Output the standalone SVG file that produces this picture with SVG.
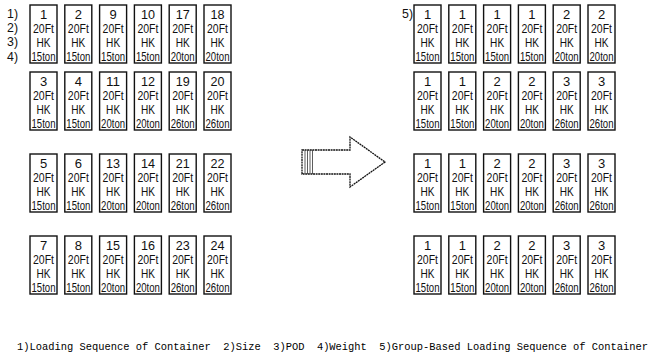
<svg xmlns="http://www.w3.org/2000/svg" width="661" height="358" viewBox="0 0 661 358">
<style>
.b{fill:#fff;stroke:#111;stroke-width:1.4}
.t{font-family:"Liberation Sans",Arial,sans-serif;font-size:13px;fill:#111;text-anchor:middle}
.l{font-family:"Liberation Sans",Arial,sans-serif;font-size:13px;fill:#111}
.c{font-family:"Liberation Mono","DejaVu Sans Mono",monospace;font-size:10.5px;fill:#000}
</style>
<defs>
<g id="box"><rect class="b" x="0" y="0" width="27" height="58"/><text class="t" x="13.5" y="27.5" textLength="21" lengthAdjust="spacingAndGlyphs">20Ft</text><text class="t" x="13.5" y="41.5" textLength="14" lengthAdjust="spacingAndGlyphs">HK</text></g>
</defs>
<rect width="661" height="358" fill="#fff"/>
<g id="labels-left" class="l">
<text x="7" y="18" textLength="11" lengthAdjust="spacingAndGlyphs">1)</text><text x="7" y="32" textLength="11" lengthAdjust="spacingAndGlyphs">2)</text><text x="7" y="46" textLength="11" lengthAdjust="spacingAndGlyphs">3)</text><text x="7" y="61" textLength="11" lengthAdjust="spacingAndGlyphs">4)</text>
</g>
<g id="label-right" class="l"><text x="402" y="18" textLength="11" lengthAdjust="spacingAndGlyphs">5)</text></g>
<g id="left-grid">
<g id="L1" transform="translate(30,5)"><use href="#box"/><text class="t" x="13.5" y="13.5">1</text><text class="t" x="13.5" y="55.5" textLength="24" lengthAdjust="spacingAndGlyphs">15ton</text></g>
<g id="L2" transform="translate(64.8,5)"><use href="#box"/><text class="t" x="13.5" y="13.5">2</text><text class="t" x="13.5" y="55.5" textLength="24" lengthAdjust="spacingAndGlyphs">15ton</text></g>
<g id="L9" transform="translate(99.6,5)"><use href="#box"/><text class="t" x="13.5" y="13.5">9</text><text class="t" x="13.5" y="55.5" textLength="24" lengthAdjust="spacingAndGlyphs">15ton</text></g>
<g id="L10" transform="translate(134.4,5)"><use href="#box"/><text class="t" x="13.5" y="13.5" textLength="14" lengthAdjust="spacingAndGlyphs">10</text><text class="t" x="13.5" y="55.5" textLength="24" lengthAdjust="spacingAndGlyphs">15ton</text></g>
<g id="L17" transform="translate(169.2,5)"><use href="#box"/><text class="t" x="13.5" y="13.5" textLength="14" lengthAdjust="spacingAndGlyphs">17</text><text class="t" x="13.5" y="55.5" textLength="24" lengthAdjust="spacingAndGlyphs">20ton</text></g>
<g id="L18" transform="translate(204,5)"><use href="#box"/><text class="t" x="13.5" y="13.5" textLength="14" lengthAdjust="spacingAndGlyphs">18</text><text class="t" x="13.5" y="55.5" textLength="24" lengthAdjust="spacingAndGlyphs">20ton</text></g>
<g id="L3" transform="translate(30,72)"><use href="#box"/><text class="t" x="13.5" y="13.5">3</text><text class="t" x="13.5" y="55.5" textLength="24" lengthAdjust="spacingAndGlyphs">15ton</text></g>
<g id="L4" transform="translate(64.8,72)"><use href="#box"/><text class="t" x="13.5" y="13.5">4</text><text class="t" x="13.5" y="55.5" textLength="24" lengthAdjust="spacingAndGlyphs">15ton</text></g>
<g id="L11" transform="translate(99.6,72)"><use href="#box"/><text class="t" x="13.5" y="13.5" textLength="14" lengthAdjust="spacingAndGlyphs">11</text><text class="t" x="13.5" y="55.5" textLength="24" lengthAdjust="spacingAndGlyphs">20ton</text></g>
<g id="L12" transform="translate(134.4,72)"><use href="#box"/><text class="t" x="13.5" y="13.5" textLength="14" lengthAdjust="spacingAndGlyphs">12</text><text class="t" x="13.5" y="55.5" textLength="24" lengthAdjust="spacingAndGlyphs">20ton</text></g>
<g id="L19" transform="translate(169.2,72)"><use href="#box"/><text class="t" x="13.5" y="13.5" textLength="14" lengthAdjust="spacingAndGlyphs">19</text><text class="t" x="13.5" y="55.5" textLength="24" lengthAdjust="spacingAndGlyphs">26ton</text></g>
<g id="L20" transform="translate(204,72)"><use href="#box"/><text class="t" x="13.5" y="13.5" textLength="14" lengthAdjust="spacingAndGlyphs">20</text><text class="t" x="13.5" y="55.5" textLength="24" lengthAdjust="spacingAndGlyphs">26ton</text></g>
<g id="L5" transform="translate(30,154)"><use href="#box"/><text class="t" x="13.5" y="13.5">5</text><text class="t" x="13.5" y="55.5" textLength="24" lengthAdjust="spacingAndGlyphs">15ton</text></g>
<g id="L6" transform="translate(64.8,154)"><use href="#box"/><text class="t" x="13.5" y="13.5">6</text><text class="t" x="13.5" y="55.5" textLength="24" lengthAdjust="spacingAndGlyphs">15ton</text></g>
<g id="L13" transform="translate(99.6,154)"><use href="#box"/><text class="t" x="13.5" y="13.5" textLength="14" lengthAdjust="spacingAndGlyphs">13</text><text class="t" x="13.5" y="55.5" textLength="24" lengthAdjust="spacingAndGlyphs">20ton</text></g>
<g id="L14" transform="translate(134.4,154)"><use href="#box"/><text class="t" x="13.5" y="13.5" textLength="14" lengthAdjust="spacingAndGlyphs">14</text><text class="t" x="13.5" y="55.5" textLength="24" lengthAdjust="spacingAndGlyphs">20ton</text></g>
<g id="L21" transform="translate(169.2,154)"><use href="#box"/><text class="t" x="13.5" y="13.5" textLength="14" lengthAdjust="spacingAndGlyphs">21</text><text class="t" x="13.5" y="55.5" textLength="24" lengthAdjust="spacingAndGlyphs">26ton</text></g>
<g id="L22" transform="translate(204,154)"><use href="#box"/><text class="t" x="13.5" y="13.5" textLength="14" lengthAdjust="spacingAndGlyphs">22</text><text class="t" x="13.5" y="55.5" textLength="24" lengthAdjust="spacingAndGlyphs">26ton</text></g>
<g id="L7" transform="translate(30,236)"><use href="#box"/><text class="t" x="13.5" y="13.5">7</text><text class="t" x="13.5" y="55.5" textLength="24" lengthAdjust="spacingAndGlyphs">15ton</text></g>
<g id="L8" transform="translate(64.8,236)"><use href="#box"/><text class="t" x="13.5" y="13.5">8</text><text class="t" x="13.5" y="55.5" textLength="24" lengthAdjust="spacingAndGlyphs">15ton</text></g>
<g id="L15" transform="translate(99.6,236)"><use href="#box"/><text class="t" x="13.5" y="13.5" textLength="14" lengthAdjust="spacingAndGlyphs">15</text><text class="t" x="13.5" y="55.5" textLength="24" lengthAdjust="spacingAndGlyphs">20ton</text></g>
<g id="L16" transform="translate(134.4,236)"><use href="#box"/><text class="t" x="13.5" y="13.5" textLength="14" lengthAdjust="spacingAndGlyphs">16</text><text class="t" x="13.5" y="55.5" textLength="24" lengthAdjust="spacingAndGlyphs">20ton</text></g>
<g id="L23" transform="translate(169.2,236)"><use href="#box"/><text class="t" x="13.5" y="13.5" textLength="14" lengthAdjust="spacingAndGlyphs">23</text><text class="t" x="13.5" y="55.5" textLength="24" lengthAdjust="spacingAndGlyphs">26ton</text></g>
<g id="L24" transform="translate(204,236)"><use href="#box"/><text class="t" x="13.5" y="13.5" textLength="14" lengthAdjust="spacingAndGlyphs">24</text><text class="t" x="13.5" y="55.5" textLength="24" lengthAdjust="spacingAndGlyphs">26ton</text></g>
</g>
<g id="connectors">
<g id="arrow">
<path d="M302,150 L350,150 L350,137 L385,162 L350,187 L350,174 L302,174 Z" fill="#fff" stroke="#111" stroke-width="1.3" stroke-dasharray="2,0.6"/>
<path d="M305,150 V174 M307.5,150 V174 M310,150 V174 M312.5,150 V174" stroke="#333" stroke-width="0.8" fill="none"/>
</g>
</g>
<g id="right-grid">
<g id="R1a" transform="translate(414,5)"><use href="#box"/><text class="t" x="13.5" y="13.5">1</text><text class="t" x="13.5" y="55.5" textLength="24" lengthAdjust="spacingAndGlyphs">15ton</text></g>
<g id="R1b" transform="translate(448.8,5)"><use href="#box"/><text class="t" x="13.5" y="13.5">1</text><text class="t" x="13.5" y="55.5" textLength="24" lengthAdjust="spacingAndGlyphs">15ton</text></g>
<g id="R1c" transform="translate(483.6,5)"><use href="#box"/><text class="t" x="13.5" y="13.5">1</text><text class="t" x="13.5" y="55.5" textLength="24" lengthAdjust="spacingAndGlyphs">15ton</text></g>
<g id="R1d" transform="translate(518.4,5)"><use href="#box"/><text class="t" x="13.5" y="13.5">1</text><text class="t" x="13.5" y="55.5" textLength="24" lengthAdjust="spacingAndGlyphs">15ton</text></g>
<g id="R1e" transform="translate(553.2,5)"><use href="#box"/><text class="t" x="13.5" y="13.5">2</text><text class="t" x="13.5" y="55.5" textLength="24" lengthAdjust="spacingAndGlyphs">20ton</text></g>
<g id="R1f" transform="translate(588,5)"><use href="#box"/><text class="t" x="13.5" y="13.5">2</text><text class="t" x="13.5" y="55.5" textLength="24" lengthAdjust="spacingAndGlyphs">20ton</text></g>
<g id="R2a" transform="translate(414,72)"><use href="#box"/><text class="t" x="13.5" y="13.5">1</text><text class="t" x="13.5" y="55.5" textLength="24" lengthAdjust="spacingAndGlyphs">15ton</text></g>
<g id="R2b" transform="translate(448.8,72)"><use href="#box"/><text class="t" x="13.5" y="13.5">1</text><text class="t" x="13.5" y="55.5" textLength="24" lengthAdjust="spacingAndGlyphs">15ton</text></g>
<g id="R2c" transform="translate(483.6,72)"><use href="#box"/><text class="t" x="13.5" y="13.5">2</text><text class="t" x="13.5" y="55.5" textLength="24" lengthAdjust="spacingAndGlyphs">20ton</text></g>
<g id="R2d" transform="translate(518.4,72)"><use href="#box"/><text class="t" x="13.5" y="13.5">2</text><text class="t" x="13.5" y="55.5" textLength="24" lengthAdjust="spacingAndGlyphs">20ton</text></g>
<g id="R2e" transform="translate(553.2,72)"><use href="#box"/><text class="t" x="13.5" y="13.5">3</text><text class="t" x="13.5" y="55.5" textLength="24" lengthAdjust="spacingAndGlyphs">26ton</text></g>
<g id="R2f" transform="translate(588,72)"><use href="#box"/><text class="t" x="13.5" y="13.5">3</text><text class="t" x="13.5" y="55.5" textLength="24" lengthAdjust="spacingAndGlyphs">26ton</text></g>
<g id="R3a" transform="translate(414,154)"><use href="#box"/><text class="t" x="13.5" y="13.5">1</text><text class="t" x="13.5" y="55.5" textLength="24" lengthAdjust="spacingAndGlyphs">15ton</text></g>
<g id="R3b" transform="translate(448.8,154)"><use href="#box"/><text class="t" x="13.5" y="13.5">1</text><text class="t" x="13.5" y="55.5" textLength="24" lengthAdjust="spacingAndGlyphs">15ton</text></g>
<g id="R3c" transform="translate(483.6,154)"><use href="#box"/><text class="t" x="13.5" y="13.5">2</text><text class="t" x="13.5" y="55.5" textLength="24" lengthAdjust="spacingAndGlyphs">20ton</text></g>
<g id="R3d" transform="translate(518.4,154)"><use href="#box"/><text class="t" x="13.5" y="13.5">2</text><text class="t" x="13.5" y="55.5" textLength="24" lengthAdjust="spacingAndGlyphs">20ton</text></g>
<g id="R3e" transform="translate(553.2,154)"><use href="#box"/><text class="t" x="13.5" y="13.5">3</text><text class="t" x="13.5" y="55.5" textLength="24" lengthAdjust="spacingAndGlyphs">26ton</text></g>
<g id="R3f" transform="translate(588,154)"><use href="#box"/><text class="t" x="13.5" y="13.5">3</text><text class="t" x="13.5" y="55.5" textLength="24" lengthAdjust="spacingAndGlyphs">26ton</text></g>
<g id="R4a" transform="translate(414,236)"><use href="#box"/><text class="t" x="13.5" y="13.5">1</text><text class="t" x="13.5" y="55.5" textLength="24" lengthAdjust="spacingAndGlyphs">15ton</text></g>
<g id="R4b" transform="translate(448.8,236)"><use href="#box"/><text class="t" x="13.5" y="13.5">1</text><text class="t" x="13.5" y="55.5" textLength="24" lengthAdjust="spacingAndGlyphs">15ton</text></g>
<g id="R4c" transform="translate(483.6,236)"><use href="#box"/><text class="t" x="13.5" y="13.5">2</text><text class="t" x="13.5" y="55.5" textLength="24" lengthAdjust="spacingAndGlyphs">20ton</text></g>
<g id="R4d" transform="translate(518.4,236)"><use href="#box"/><text class="t" x="13.5" y="13.5">2</text><text class="t" x="13.5" y="55.5" textLength="24" lengthAdjust="spacingAndGlyphs">20ton</text></g>
<g id="R4e" transform="translate(553.2,236)"><use href="#box"/><text class="t" x="13.5" y="13.5">3</text><text class="t" x="13.5" y="55.5" textLength="24" lengthAdjust="spacingAndGlyphs">26ton</text></g>
<g id="R4f" transform="translate(588,236)"><use href="#box"/><text class="t" x="13.5" y="13.5">3</text><text class="t" x="13.5" y="55.5" textLength="24" lengthAdjust="spacingAndGlyphs">26ton</text></g>
</g>
<g id="caption">
<text class="c" x="17" y="350" textLength="631" lengthAdjust="spacingAndGlyphs" xml:space="preserve">1)Loading Sequence of Container  2)Size  3)POD  4)Weight  5)Group-Based Loading Sequence of Container</text>
</g>
</svg>
